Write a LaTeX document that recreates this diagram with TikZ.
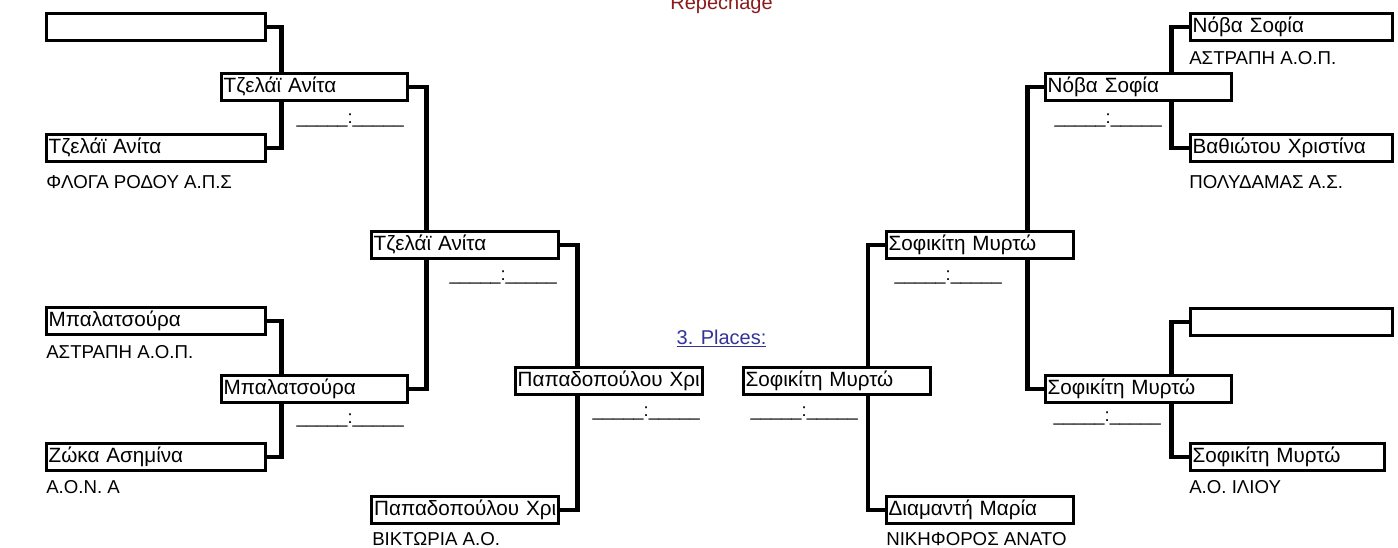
\documentclass[tikz,border=0pt]{standalone}
\usepackage{fontspec}
\setmainfont{Liberation Sans}
\usetikzlibrary{backgrounds}
\definecolor{repred}{RGB}{139,26,26}
\definecolor{placeblue}{RGB}{51,51,153}

\begin{document}
\begin{tikzpicture}[x=0.75pt,y=-0.75pt,
		namebox/.style={draw,line width=2.25pt,fill=white,anchor=west,minimum height=20.25pt,
			inner xsep=2pt,inner ysep=0pt,text height=11.2pt,text depth=3.5pt,text width=#1,align=left,
			font=\fontsize{15.5}{15.5}\selectfont,execute at begin node={\hbox\bgroup},execute at end node={\egroup}},
		club/.style={anchor=base west,inner sep=0pt,font=\fontsize{14}{14}\selectfont},
		score/.style={anchor=base east,inner sep=0pt,font=\fontsize{13.75}{13.75}\selectfont},
		link/.style={line width=3.6pt}]
	\useasboundingbox (0,0) rectangle (1398,547);
	% header
	\node[anchor=base,text=repred,font=\fontsize{15}{15}\selectfont] (rep) at (721.5,9) {Repechage};
	\node[anchor=base,text=placeblue,font=\fontsize{15}{15}\selectfont] (places) at (721.5,344) {\underline{3. Places:}};
	% left half
	\node[namebox=160.25pt] (la) at (44.5,27) {};
	\node[namebox=160.25pt] (lb) at (44.5,148) {Τζελάϊ Ανίτα};
	\node[namebox=160.25pt] (lc) at (44.5,321) {Μπαλατσούρα};
	\node[namebox=160.25pt] (ld) at (44.5,457) {Ζώκα Ασημίνα};
	\node[club] (cb) at (46,188.5) {ΦΛΟΓΑ ΡΟΔΟΥ Α.Π.Σ};
	\node[club] (cc) at (46,358) {ΑΣΤΡΑΠΗ Α.Ο.Π.};
	\node[club] (cd) at (46,493.5) {Α.Ο.Ν. Α};
	\node[namebox=135.5pt] (ma) at (219.5,87) {Τζελάϊ Ανίτα};
	\node[namebox=135.5pt] (mb) at (219.5,389) {Μπαλατσούρα};
	\node[score] (sma) at (404,123) {\_\_\_\_\_:\_\_\_\_\_};
	\node[score] (smb) at (404,423) {\_\_\_\_\_:\_\_\_\_\_};
	\node[namebox=136.25pt] (qa) at (369.5,245) {Τζελάϊ Ανίτα};
	\node[score] (sqa) at (557,280) {\_\_\_\_\_:\_\_\_\_\_};
	\node[namebox=136.25pt] (le) at (370,510) {Παπαδοπούλου Χρι};
	\node[club] (ce) at (372,545) {ΒΙΚΤΩΡΙΑ Α.Ο.};
	\node[namebox=136.25pt] (fa) at (513.5,381) {Παπαδοπούλου Χρι};
	\node[score] (sfa) at (700,416) {\_\_\_\_\_:\_\_\_\_\_};
	% right half
	\node[namebox=136.25pt] (fb) at (741.5,381) {Σοφικίτη Μυρτώ};
	\node[score] (sfb) at (858,416) {\_\_\_\_\_:\_\_\_\_\_};
	\node[namebox=136.25pt] (qb) at (884.5,245) {Σοφικίτη Μυρτώ};
	\node[score] (sqb) at (1002,280) {\_\_\_\_\_:\_\_\_\_\_};
	\node[namebox=136.25pt] (re) at (884.5,510) {Διαμαντή Μαρία};
	\node[club] (ce2) at (886,545) {ΝΙΚΗΦΟΡΟΣ ΑΝΑΤΟ};
	\node[namebox=135.5pt] (mc) at (1043.5,87) {Νόβα Σοφία};
	\node[namebox=135.5pt] (md) at (1043.5,389) {Σοφικίτη Μυρτώ};
	\node[score] (smc) at (1162,123) {\_\_\_\_\_:\_\_\_\_\_};
	\node[score] (smd) at (1161,421) {\_\_\_\_\_:\_\_\_\_\_};
	\node[namebox=147.5pt] (ra) at (1188.5,27) {Νόβα Σοφία};
	\node[namebox=147.5pt] (rb) at (1188.5,148) {Βαθιώτου Χριστίνα};
	\node[namebox=147.5pt] (rc) at (1188.5,322) {};
	\node[namebox=141.5pt] (rd) at (1188.5,457) {Σοφικίτη Μυρτώ};
	\node[club] (cra) at (1189,64.5) {ΑΣΤΡΑΠΗ Α.Ο.Π.};
	\node[club] (crb) at (1189,188.5) {ΠΟΛΥΔΑΜΑΣ Α.Σ.};
	\node[club] (crd) at (1189,493.5) {Α.Ο. ΙΛΙΟΥ};
	% bracket lines behind the boxes
	\begin{scope}[on background layer]
		\draw[link] (la.east) -- ++(15,0) |- (lb.east);
		\draw[link] (lc.east) -- ++(15,0) |- (ld.east);
		\draw[link] (ma.east) -- ++(18,0) |- (mb.east);
		\draw[link] (qa.east) -- ++(18,0) |- (le.east);
		\draw[link] (ra.west) -- ++(-17,0) |- (rb.west);
		\draw[link] (rc.west) -- ++(-17,0) |- (rd.west);
		\draw[link] (mc.west) -- ++(-16,0) |- (md.west);
		\draw[link] (qb.west) -- ++(-16.5,0) |- (re.west);
	\end{scope}
\end{tikzpicture}
\end{document}
